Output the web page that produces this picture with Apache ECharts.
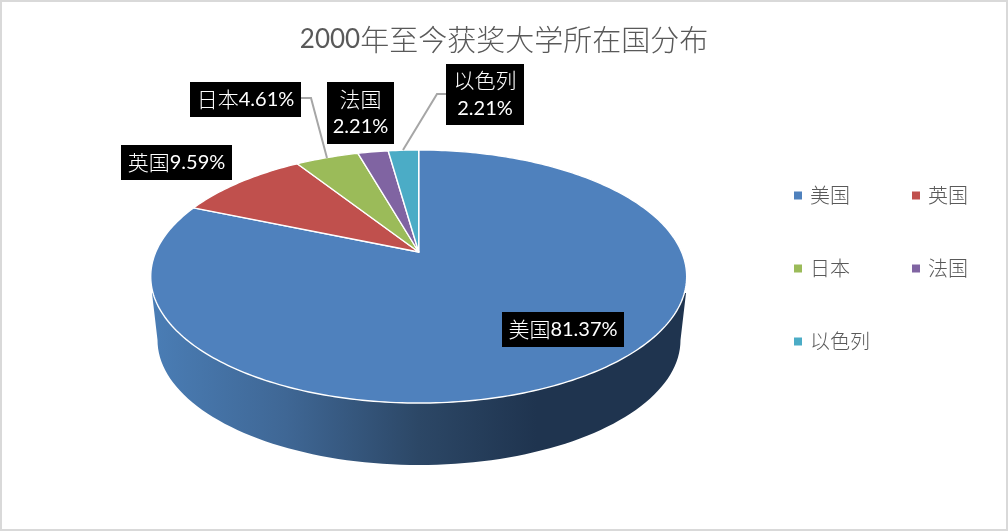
<!DOCTYPE html>
<html>
<head>
<meta charset="utf-8">
<style>html,body{margin:0;padding:0;background:#fff}#c{width:1008px;height:531px}</style>
<script src="https://cdn.jsdelivr.net/npm/echarts@6/dist/echarts.min.js"></script>
</head>
<body>
<div id="c"></div>
<script>
// ---- data ----
const categories = ['美国', '英国', '日本', '法国', '以色列'];
const shares = [81.37, 9.59, 4.61, 2.21, 2.21];
const titleYear = '2000';
const titleRest = '年至今获奖大学所在国分布';

// ---- styles and layout (separate from the data) ----
const colors = ['#4F81BD', '#C0504D', '#9BBB59', '#8064A2', '#4BACC6'];
const CJK = '"Noto Sans CJK SC Light","Noto Sans CJK SC","Noto Sans",sans-serif';
const LATIN = 'Lato,"Open Sans",sans-serif';
// perspective view of the pie's top face
const view = { cx: 418.7, cy: 252, a: 121.8, b: 262.9, k: 0.1937 };
// black label boxes [left, top, width, height], two-line flag, leader polyline
const labelLayout = [
  { box: [502, 312, 122, 35], twoLine: false },
  { box: [121, 145, 111, 35], twoLine: false },
  { box: [190, 82, 111, 35], twoLine: false, leader: [[301, 98], [311, 98], [327, 158]] },
  { box: [327, 82, 67, 62], twoLine: true },
  { box: [446, 64, 78, 61], twoLine: true, leader: [[403, 150], [437, 94], [446, 94]] }
];

const total = shares.reduce((s, v) => s + v, 0);
function rimPoint(deg) {
  const t = deg * Math.PI / 180;
  const u = Math.sin(t), v = Math.cos(t), d = 1 + view.k * v;
  return [view.cx + view.b * u / d, view.cy - view.a * v / d];
}
function startAngle(i) {
  let s = 0;
  for (let j = 0; j < i; j++) s += shares[j];
  return s / total * 360;
}
function renderSlice(i) {
  return function (params, api) {
    const from = startAngle(i);
    const to = from + api.value(0) / total * 360;
    const pts = [[view.cx, view.cy]];
    const n = Math.max(2, Math.ceil(to - from));
    for (let s = 0; s <= n; s++) pts.push(rimPoint(from + (to - from) * s / n));
    return {
      type: 'polygon',
      shape: { points: pts },
      style: { fill: colors[i], stroke: '#fff', lineWidth: 1.4, lineJoin: 'round' }
    };
  };
}
function renderLabel(i) {
  return function (params, api) {
    const L = labelLayout[i];
    const [x, y, w, h] = L.box;
    const pct = api.value(0).toFixed(2) + '%';
    const text = '{a|' + categories[i] + '}' + (L.twoLine ? '\n' : '') + '{b|' + pct + '}';
    const kids = [];
    if (L.leader) kids.push({
      type: 'polyline', shape: { points: L.leader },
      style: { fill: null, stroke: '#A6A6A6', lineWidth: 2 }
    });
    kids.push({ type: 'rect', shape: { x, y, width: w, height: h }, style: { fill: '#000' } });
    kids.push({
      type: 'text',
      style: {
        text, x: x + w / 2, y: y + h / 2, align: 'center', verticalAlign: 'middle', fill: '#fff',
        rich: {
          a: { fontFamily: CJK, fontSize: 21, fontWeight: 300, color: '#fff', lineHeight: 28, align: 'center' },
          b: { fontFamily: LATIN, fontSize: 20, color: '#fff', lineHeight: 28, align: 'center' }
        }
      }
    });
    return { type: 'group', children: kids };
  };
}
function renderWall() {
  // lower rim: same pie shifted down, slightly smaller with distance
  const pts = [[152, 293]];
  for (let s = 180; s >= 0; s -= 2) {
    const t = s * Math.PI / 180;
    pts.push([419 + 261.5 * Math.cos(t), 340 + 125 * Math.sin(t)]);
  }
  pts.push([686, 293]);
  return {
    type: 'polygon',
    shape: { points: pts },
    style: {
      fill: new echarts.graphic.LinearGradient(0, 0, 1, 0, [
        { offset: 0, color: '#4A7DB5' },
        { offset: 0.25, color: '#3F6795' },
        { offset: 0.5, color: '#2C4766' },
        { offset: 0.72, color: '#1F344F' },
        { offset: 1, color: '#1F344F' }
      ])
    }
  };
}

const series = [{
  name: 'side', type: 'custom', coordinateSystem: 'none', silent: true,
  data: [[0]], renderItem: renderWall, z: 1
}];
categories.forEach((name, i) => series.push({
  name, type: 'custom', coordinateSystem: 'none',
  itemStyle: { color: colors[i] },
  data: [[shares[i]]], renderItem: renderSlice(i), z: 2
}));
categories.forEach((name, i) => series.push({
  name: name + ' label', type: 'custom', coordinateSystem: 'none', silent: true,
  data: [[shares[i]]], renderItem: renderLabel(i), z: 3
}));

const chart = echarts.init(document.getElementById('c'), null, { renderer: 'canvas' });
chart.setOption({
  animation: false,
  backgroundColor: '#fff',
  color: colors,
  title: {
    text: '{d|' + titleYear + '}{c|' + titleRest + '}',
    left: 'center', top: 15,
    textStyle: {
      rich: {
        d: { fontFamily: LATIN, fontSize: 26, fontWeight: 'normal', color: '#595959', lineHeight: 40 },
        c: { fontFamily: CJK, fontSize: 29, fontWeight: 300, color: '#595959', lineHeight: 40 }
      }
    }
  },
  legend: {
    data: categories,
    left: 789, top: 154, width: 240,
    orient: 'horizontal',
    icon: 'rect', itemWidth: 8, itemHeight: 8, itemGap: 0,
    selectedMode: false,
    textStyle: {
      fontFamily: CJK, fontSize: 20, color: '#595959',
      width: 102, height: 73, lineHeight: 24, padding: [0, 0, 0, 3]
    }
  },
  graphic: [{
    type: 'rect', silent: true, z: 100,
    shape: { x: 1, y: 1, width: 1006, height: 529 },
    style: { fill: null, stroke: '#D9D9D9', lineWidth: 2 }
  }],
  series
});
</script>
</body>
</html>
